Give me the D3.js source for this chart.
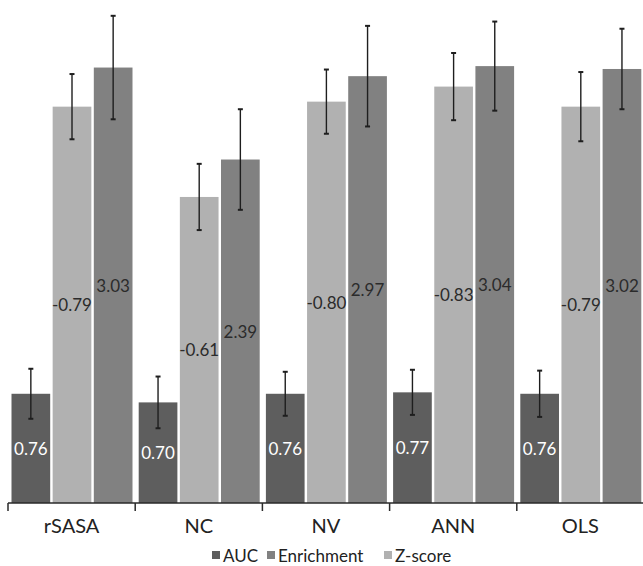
<!DOCTYPE html>
<html>
<head>
<meta charset="utf-8">
<script src="https://cdn.jsdelivr.net/npm/d3@7"></script>
<style>
  body { margin: 0; background: #fff; }
  svg { display: block; font-family: Lato, "Open Sans", sans-serif; }
</style>
</head>
<body>
<div id="chart"></div>
<script>
// data
const categories = ['rSASA', 'NC', 'NV', 'ANN', 'OLS'];
const seriesNames = ['AUC', 'Z-score', 'Enrichment'];   // bar order inside a group
const legendOrder = ['AUC', 'Enrichment', 'Z-score'];

const aucValues = [0.76, 0.70, 0.76, 0.77, 0.76];
const aucErrors = [0.174, 0.18, 0.153, 0.157, 0.161];
const zScoreValues = [-0.79, -0.61, -0.80, -0.83, -0.79];
const zScoreErrors = [0.065, 0.066, 0.064, 0.067, 0.069];
const enrichmentValues = [3.03, 2.39, 2.97, 3.04, 3.02];
const enrichmentErrors = [0.36, 0.35, 0.35, 0.31, 0.28];

const width = 643;
const height = 566;
const margin = { top: 0, right: -1, bottom: 63, left: 8 };
const innerH = height - margin.top - margin.bottom;

const colors = { 'AUC': '#5e5e5e', 'Z-score': '#b1b1b1', 'Enrichment': '#818181' };
const labelColors = { 'AUC': '#ffffff', 'Z-score': '#2b2b2b', 'Enrichment': '#2b2b2b' };

const svg = d3.select('#chart')
  .append('svg')
  .attr('width', width)
  .attr('height', height);

const g = svg.append('g')
  .attr('transform', `translate(${margin.left},${margin.top})`);

const x0 = d3.scaleBand()
  .domain(categories)
  .range([0, width - margin.left - margin.right])
  .paddingInner(0)
  .paddingOuter(0);

const x1 = d3.scaleBand()
  .domain(seriesNames)
  .range([3.5, x0.bandwidth() - 2.7])
  .paddingInner(0.06);

// AUC and Enrichment share one scale, |Z-score| is drawn on its own scale
const y = d3.scaleLinear().domain([0, 3.5]).range([innerH, 0]);
const yZ = d3.scaleLinear().domain([0, 1]).range([innerH, 1.3]);

const rows = [];
categories.forEach((c, i) => {
  rows.push({ cat: c, key: 'AUC', value: aucValues[i], err: aucErrors[i], scale: y, bar: aucValues[i] });
  rows.push({ cat: c, key: 'Z-score', value: zScoreValues[i], err: zScoreErrors[i], scale: yZ, bar: Math.abs(zScoreValues[i]) });
  rows.push({ cat: c, key: 'Enrichment', value: enrichmentValues[i], err: enrichmentErrors[i], scale: y, bar: enrichmentValues[i] });
});

const bx = d => x0(d.cat) + x1(d.key);

g.selectAll('rect.bar')
  .data(rows)
  .join('rect')
  .attr('class', 'bar')
  .attr('x', bx)
  .attr('width', x1.bandwidth())
  .attr('y', d => d.scale(d.bar))
  .attr('height', d => innerH - d.scale(d.bar))
  .attr('fill', d => colors[d.key]);

// error bars
const cap = 2.5;
const errG = g.selectAll('g.err')
  .data(rows)
  .join('g')
  .attr('class', 'err')
  .attr('stroke', '#1e1e1e')
  .attr('stroke-width', 1.4);

errG.append('line')
  .attr('x1', d => bx(d) + x1.bandwidth() / 2)
  .attr('x2', d => bx(d) + x1.bandwidth() / 2)
  .attr('y1', d => d.scale(d.bar + d.err))
  .attr('y2', d => d.scale(d.bar - d.err));

errG.selectAll('line.cap')
  .data(d => [d.bar + d.err, d.bar - d.err].map(v => ({ d, v })))
  .join('line')
  .attr('class', 'cap')
  .attr('x1', e => bx(e.d) + x1.bandwidth() / 2 - cap)
  .attr('x2', e => bx(e.d) + x1.bandwidth() / 2 + cap)
  .attr('y1', e => e.d.scale(e.v))
  .attr('y2', e => e.d.scale(e.v))
  .attr('stroke-width', 2);

// value labels in the middle of each bar
g.selectAll('text.val')
  .data(rows)
  .join('text')
  .attr('class', 'val')
  .attr('x', d => bx(d) + x1.bandwidth() / 2)
  .attr('y', d => (d.scale(d.bar) + innerH) / 2)
  .attr('text-anchor', 'middle')
  .attr('dominant-baseline', 'central')
  .attr('font-size', 17)
  .attr('fill', d => labelColors[d.key])
  .text(d => d.value.toFixed(2));

// x axis: line, ticks between groups, labels centred
const axis = g.append('g').attr('transform', `translate(0,${innerH})`);
axis.append('line')
  .attr('x1', 0)
  .attr('x2', x0.range()[1])
  .attr('stroke', '#2a2a2a')
  .attr('stroke-width', 1.5);

axis.selectAll('line.tick')
  .data(categories)
  .join('line')
  .attr('class', 'tick')
  .attr('x1', d => x0(d))
  .attr('x2', d => x0(d))
  .attr('y1', 0)
  .attr('y2', 8)
  .attr('stroke', '#2a2a2a')
  .attr('stroke-width', 1.5);

axis.selectAll('text')
  .data(categories)
  .join('text')
  .attr('x', d => x0(d) + x0.bandwidth() / 2)
  .attr('y', 30)
  .attr('text-anchor', 'middle')
  .attr('font-size', 20)
  .attr('fill', '#222')
  .text(d => d);

// legend
const legendX = [212, 267, 384];
const legend = svg.append('g').attr('transform', 'translate(0,555)');
legendOrder.forEach((k, i) => {
  legend.append('rect')
    .attr('x', legendX[i])
    .attr('y', -4)
    .attr('width', 8)
    .attr('height', 8)
    .attr('fill', colors[k]);
  legend.append('text')
    .attr('x', legendX[i] + 11)
    .attr('y', 0)
    .attr('dominant-baseline', 'central')
    .attr('font-size', 17)
    .attr('fill', '#222')
    .text(k);
});
</script>
</body>
</html>
